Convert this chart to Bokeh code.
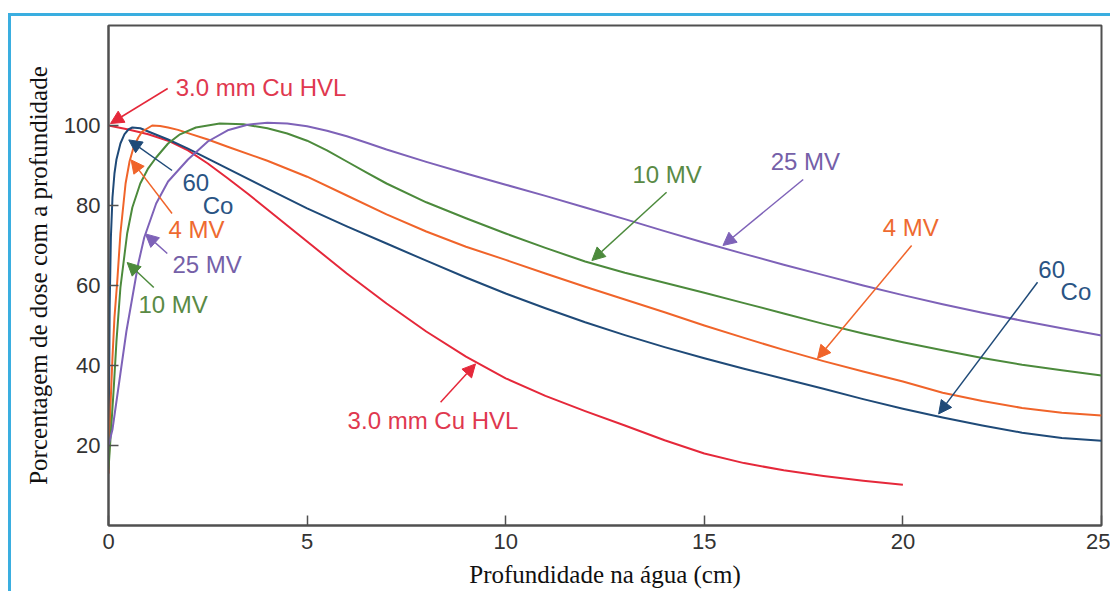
from bokeh.plotting import figure
from bokeh.models import (Range1d, FixedTicker, Arrow, NormalHead, Label)
from bokeh.embed import file_html
from bokeh.resources import INLINE

# ---------------- data ----------------
hvl_x = [0, 0.5, 1, 1.5, 2, 2.5, 3, 3.5, 4, 4.5, 5, 5.5, 6, 7, 8, 9, 10, 11, 12, 13, 14, 15, 16, 17, 18, 19, 20]
hvl_y = [100, 99, 97.8, 96.2, 93.8, 90.5, 86.8, 83, 79, 75, 71, 67, 63, 55.5, 48.5, 42.2, 36.8, 32.4, 28.6, 25, 21.3,
         18, 15.6, 13.8, 12.4, 11.2, 10.2]

co_x = [0, 0.03, 0.06, 0.1, 0.15, 0.2, 0.3, 0.4, 0.5, 0.6, 0.8, 1, 1.5, 2, 3, 4, 5, 6, 7, 8, 9, 10, 11, 12, 13, 14,
        15, 16, 17, 18, 19, 20, 21, 22, 23, 24, 25]
co_y = [13, 55, 72, 82, 88, 91.5, 95.5, 97.8, 99, 99.5, 99.3, 98.5, 96.5, 94.2, 89.2, 84.2, 79.3, 74.8, 70.5, 66.2,
        62, 58, 54.3, 50.8, 47.6, 44.6, 41.8, 39.2, 36.7, 34.2, 31.6, 29.2, 27, 25, 23.2, 21.9, 21.2]

mv4_x = [0, 0.05, 0.1, 0.15, 0.22, 0.3, 0.43, 0.53, 0.63, 0.75, 0.85, 1.1, 1.3, 1.5, 1.75, 2, 2.5, 3, 4, 5, 6, 7, 8,
         9, 10, 11, 12, 13, 14, 15, 16, 17, 18, 19, 20, 21, 22, 23, 24, 25]
mv4_y = [13, 30, 42, 52, 61, 73, 85.5, 91, 94.5, 97, 98.5, 100, 99.9, 99.5, 98.9, 98.1, 96.5, 94.7, 91.2, 87.2, 82.5,
         77.8, 73.5, 69.7, 66.4, 63, 59.7, 56.5, 53.3, 50, 46.9, 43.9, 41.1, 38.5, 36, 33.2, 31.1, 29.4, 28.2, 27.5]

mv10_x = [0, 0.13, 0.2, 0.3, 0.47, 0.6, 0.8, 1, 1.2, 1.5, 1.8, 2.2, 2.8, 3.4, 4, 4.5, 5, 5.5, 6, 6.5, 7, 8, 9, 10,
          11, 12, 13, 14, 15, 16, 17, 18, 19, 20, 21, 22, 23, 24, 25]
mv10_y = [14, 34, 46, 59.5, 73, 79.5, 85.5, 89.3, 92, 95.5, 97.8, 99.5, 100.5, 100.3, 99.3, 98, 96.2, 93.8, 91, 88.2,
          85.5, 80.8, 76.8, 73, 69.4, 66, 63.2, 60.7, 58.2, 55.6, 53, 50.4, 48, 45.8, 43.8, 41.9, 40.2, 38.8, 37.5]

mv25_x = [0, 0.1, 0.3, 0.45, 0.6, 0.75, 0.9, 1.2, 1.5, 2, 2.5, 3, 3.5, 4, 4.5, 5, 5.5, 6, 6.5, 7, 8, 9, 10, 11, 12,
          13, 14, 15, 16, 17, 18, 19, 20, 21, 22, 23, 24, 25]
mv25_y = [20, 24, 38, 48.5, 57, 65.5, 72, 80.5, 86, 91.5, 96, 98.8, 100.2, 100.7, 100.5, 99.8, 98.7, 97.3, 95.7, 94,
          90.9, 88, 85.2, 82.4, 79.5, 76.6, 73.6, 70.7, 67.9, 65.2, 62.6, 60, 57.6, 55.3, 53.2, 51.2, 49.3, 47.5]

x_ticks = [0, 5, 10, 15, 20, 25]
y_ticks = [20, 40, 60, 80, 100]

RED, BLUE, ORANGE, GREEN, PURPLE = "#E5283A", "#1F4A78", "#F0642A", "#4C8A3C", "#7E62B8"
RED_T, BLUE_T, ORANGE_T, GREEN_T, PURPLE_T = "#E0384F", "#2A5484", "#EE6A30", "#5A8A45", "#7560A8"

# annotations: text, color, text position (x, y)
labels = [
    ("3.0 mm Cu HVL", RED_T, 1.69, 109.4),
    ("60", BLUE_T, 1.86, 85.75),
    ("Co", BLUE_T, 2.37, 80.0),
    ("4 MV", ORANGE_T, 1.51, 73.9),
    ("25 MV", PURPLE_T, 1.61, 65.25),
    ("10 MV", GREEN_T, 0.755, 55.25),
    ("10 MV", GREEN_T, 13.19, 87.75),
    ("25 MV", PURPLE_T, 16.67, 91.0),
    ("4 MV", ORANGE_T, 19.49, 74.6),
    ("60", BLUE_T, 23.41, 64.1),
    ("Co", BLUE_T, 23.97, 58.4),
    ("3.0 mm Cu HVL", RED_T, 6.02, 26.25),
]
# arrows: color, start (x, y), tip (x, y)
arrows = [
    (RED, 1.49, 109.25, 0.05, 100.5),
    (BLUE, 1.6, 88.75, 0.51, 96.4),
    (ORANGE, 1.6, 78.0, 0.57, 91.4),
    (PURPLE, 1.48, 68.0, 0.93, 72.9),
    (GREEN, 1.14, 59.5, 0.47, 65.75),
    (GREEN, 14.05, 83.3, 12.17, 66.25),
    (PURPLE, 17.49, 86.5, 15.47, 70.0),
    (ORANGE, 20.22, 70.0, 17.85, 41.75),
    (BLUE, 23.39, 60.8, 20.9, 27.9),
    (RED, 8.36, 30.8, 9.24, 40.4),
]

# ---------------- figure ----------------
p = figure(width=1102, height=578, output_backend="svg", toolbar_location=None,
           x_range=Range1d(0, 25), y_range=Range1d(0, 125),
           margin=(13, 0, 0, 8),
           styles={"border-left": "3px solid #3AAEE0", "border-top": "3px solid #3AAEE0"})
p.min_border_left = 97
p.min_border_right = 12
p.min_border_top = 9
p.min_border_bottom = 69
p.background_fill_color = "white"
p.border_fill_color = "white"
p.outline_line_color = "#505050"
p.outline_line_width = 2
p.grid.visible = False

for ax in (p.xaxis[0], p.yaxis[0]):
    ax.axis_line_color = "#505050"
    ax.axis_line_width = 2
    ax.major_tick_in = 10
    ax.major_tick_out = 0
    ax.minor_tick_in = 0
    ax.minor_tick_out = 0
    ax.major_tick_line_color = "#505050"
    ax.major_tick_line_width = 1.5
    ax.major_label_text_font = "Liberation Sans"
    ax.major_label_text_font_size = "22px"
    ax.major_label_text_color = "#333333"
    ax.axis_label_text_font = "Liberation Serif"
    ax.axis_label_text_font_size = "25px"
    ax.axis_label_text_font_style = "normal"
    ax.axis_label_text_color = "#111111"

p.xaxis[0].ticker = FixedTicker(ticks=x_ticks)
p.yaxis[0].ticker = FixedTicker(ticks=y_ticks)
p.xaxis[0].axis_label = "Profundidade na água (cm)"
p.yaxis[0].axis_label = "Porcentagem de dose com a profundidade"
p.xaxis[0].major_label_standoff = 8
p.yaxis[0].major_label_standoff = 8
p.xaxis[0].axis_label_standoff = 9
p.yaxis[0].axis_label_standoff = 9

series = [
    (hvl_x, hvl_y, RED),
    (co_x, co_y, BLUE),
    (mv4_x, mv4_y, ORANGE),
    (mv10_x, mv10_y, GREEN),
    (mv25_x, mv25_y, PURPLE),
]
for xs, ys, c in series:
    p.line(xs, ys, line_color=c, line_width=2, line_join="round")

for c, x0, y0, x1, y1 in arrows:
    p.add_layout(Arrow(x_start=x0, y_start=y0, x_end=x1, y_end=y1, line_color=c, line_width=1.5,
                       end=NormalHead(size=13, fill_color=c, line_color=c, line_width=1)))

for t, c, x, y in labels:
    p.add_layout(Label(x=x, y=y, text=t, text_color=c, text_font="Liberation Sans", text_font_size="24px",
                       text_align="left", text_baseline="middle"))

open("out.html", "w").write(file_html(p, INLINE))
